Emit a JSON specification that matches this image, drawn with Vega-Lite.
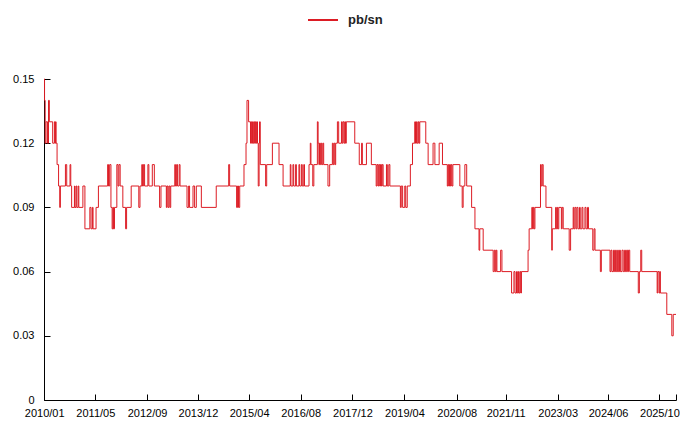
{
  "$schema": "https://vega.github.io/schema/vega-lite/v6.json",
  "width": 632,
  "height": 321,
  "autosize": {"type": "none"},
  "padding": {"left": 44, "top": 79, "right": 4, "bottom": 23},
  "background": "white",
  "config": {"view": {"stroke": null}, "font": "Liberation Sans"},
  "data": {"values": [
    {"d":"2010-01-13","v":0.15},{"d":"2010-01-18","v":0.14},{"d":"2010-01-24","v":0.12},{"d":"2010-02-01","v":0.13},{"d":"2010-02-15","v":0.12},
    {"d":"2010-02-24","v":0.14},{"d":"2010-03-04","v":0.13},{"d":"2010-04-04","v":0.12},{"d":"2010-04-20","v":0.13},{"d":"2010-04-26","v":0.12},
    {"d":"2010-05-01","v":0.13},{"d":"2010-05-06","v":0.12},{"d":"2010-05-15","v":0.11},{"d":"2010-05-29","v":0.10},{"d":"2010-06-09","v":0.09},
    {"d":"2010-06-15","v":0.10},{"d":"2010-08-01","v":0.11},{"d":"2010-08-13","v":0.10},{"d":"2010-09-13","v":0.11},{"d":"2010-09-20","v":0.10},
    {"d":"2010-09-28","v":0.09},{"d":"2010-10-24","v":0.10},{"d":"2010-10-28","v":0.09},{"d":"2010-11-08","v":0.10},{"d":"2010-11-15","v":0.09},
    {"d":"2010-11-28","v":0.10},{"d":"2010-12-04","v":0.09},{"d":"2011-01-11","v":0.10},{"d":"2011-01-30","v":0.08},{"d":"2011-03-17","v":0.09},
    {"d":"2011-03-28","v":0.08},{"d":"2011-04-10","v":0.09},{"d":"2011-04-16","v":0.08},{"d":"2011-05-14","v":0.09},{"d":"2011-06-05","v":0.10},
    {"d":"2011-08-30","v":0.11},{"d":"2011-09-07","v":0.10},{"d":"2011-09-18","v":0.11},{"d":"2011-09-30","v":0.09},{"d":"2011-10-11","v":0.08},
    {"d":"2011-10-19","v":0.09},{"d":"2011-10-23","v":0.08},{"d":"2011-11-02","v":0.09},{"d":"2011-11-24","v":0.11},{"d":"2011-12-05","v":0.10},
    {"d":"2011-12-14","v":0.11},{"d":"2011-12-25","v":0.10},{"d":"2012-01-19","v":0.09},{"d":"2012-02-14","v":0.08},{"d":"2012-02-23","v":0.09},
    {"d":"2012-04-06","v":0.10},{"d":"2012-06-16","v":0.09},{"d":"2012-06-27","v":0.10},{"d":"2012-07-14","v":0.11},{"d":"2012-07-20","v":0.10},
    {"d":"2012-07-29","v":0.11},{"d":"2012-08-09","v":0.10},{"d":"2012-09-09","v":0.11},{"d":"2012-09-18","v":0.10},{"d":"2012-10-20","v":0.11},
    {"d":"2012-11-08","v":0.10},{"d":"2012-12-27","v":0.09},{"d":"2013-01-09","v":0.10},{"d":"2013-02-28","v":0.09},{"d":"2013-03-06","v":0.10},
    {"d":"2013-03-15","v":0.09},{"d":"2013-03-24","v":0.10},{"d":"2013-04-02","v":0.09},{"d":"2013-04-10","v":0.10},{"d":"2013-05-18","v":0.11},
    {"d":"2013-05-24","v":0.10},{"d":"2013-06-04","v":0.11},{"d":"2013-06-13","v":0.10},{"d":"2013-06-28","v":0.11},{"d":"2013-07-06","v":0.10},
    {"d":"2013-09-09","v":0.09},{"d":"2013-09-24","v":0.10},{"d":"2013-10-03","v":0.09},{"d":"2013-11-04","v":0.10},{"d":"2013-11-19","v":0.09},
    {"d":"2013-12-05","v":0.10},{"d":"2014-01-21","v":0.09},{"d":"2014-06-09","v":0.10},{"d":"2014-10-03","v":0.11},{"d":"2014-10-12","v":0.10},
    {"d":"2014-12-16","v":0.09},{"d":"2014-12-25","v":0.10},{"d":"2015-01-03","v":0.09},{"d":"2015-01-14","v":0.10},{"d":"2015-02-23","v":0.11},
    {"d":"2015-03-14","v":0.12},{"d":"2015-03-23","v":0.14},{"d":"2015-04-07","v":0.13},{"d":"2015-04-25","v":0.12},{"d":"2015-05-02","v":0.13},
    {"d":"2015-05-07","v":0.12},{"d":"2015-05-14","v":0.13},{"d":"2015-05-20","v":0.12},{"d":"2015-05-26","v":0.13},{"d":"2015-06-02","v":0.12},
    {"d":"2015-06-09","v":0.13},{"d":"2015-06-14","v":0.12},{"d":"2015-06-21","v":0.13},{"d":"2015-06-29","v":0.12},{"d":"2015-07-06","v":0.10},
    {"d":"2015-07-14","v":0.12},{"d":"2015-07-18","v":0.13},{"d":"2015-07-25","v":0.11},{"d":"2015-09-13","v":0.10},{"d":"2015-09-23","v":0.11},
    {"d":"2015-11-15","v":0.12},{"d":"2016-01-16","v":0.11},{"d":"2016-02-23","v":0.10},{"d":"2016-04-30","v":0.11},{"d":"2016-05-06","v":0.10},
    {"d":"2016-05-25","v":0.11},{"d":"2016-06-01","v":0.10},{"d":"2016-06-19","v":0.11},{"d":"2016-06-26","v":0.10},{"d":"2016-07-20","v":0.11},
    {"d":"2016-07-27","v":0.10},{"d":"2016-08-12","v":0.11},{"d":"2016-08-20","v":0.10},{"d":"2016-09-03","v":0.11},{"d":"2016-09-10","v":0.10},
    {"d":"2016-10-22","v":0.11},{"d":"2016-11-03","v":0.12},{"d":"2016-11-09","v":0.11},{"d":"2016-11-26","v":0.10},{"d":"2016-12-06","v":0.11},
    {"d":"2017-01-08","v":0.13},{"d":"2017-01-15","v":0.12},{"d":"2017-01-22","v":0.11},{"d":"2017-01-28","v":0.12},{"d":"2017-02-05","v":0.11},
    {"d":"2017-02-13","v":0.12},{"d":"2017-02-19","v":0.11},{"d":"2017-02-28","v":0.12},{"d":"2017-03-08","v":0.11},{"d":"2017-04-17","v":0.10},
    {"d":"2017-05-03","v":0.11},{"d":"2017-05-28","v":0.12},{"d":"2017-06-05","v":0.11},{"d":"2017-06-13","v":0.12},{"d":"2017-06-21","v":0.11},
    {"d":"2017-06-28","v":0.12},{"d":"2017-07-14","v":0.13},{"d":"2017-07-26","v":0.12},{"d":"2017-08-21","v":0.13},{"d":"2017-08-28","v":0.12},
    {"d":"2017-09-05","v":0.13},{"d":"2017-09-14","v":0.12},{"d":"2017-09-21","v":0.13},{"d":"2017-09-28","v":0.12},{"d":"2017-10-05","v":0.13},
    {"d":"2017-12-23","v":0.12},{"d":"2018-02-03","v":0.11},{"d":"2018-02-25","v":0.12},{"d":"2018-03-04","v":0.11},{"d":"2018-04-11","v":0.12},
    {"d":"2018-05-27","v":0.11},{"d":"2018-07-11","v":0.10},{"d":"2018-07-19","v":0.11},{"d":"2018-07-28","v":0.10},{"d":"2018-08-04","v":0.11},
    {"d":"2018-08-13","v":0.10},{"d":"2018-08-20","v":0.11},{"d":"2018-08-29","v":0.10},{"d":"2018-09-05","v":0.11},{"d":"2018-09-14","v":0.10},
    {"d":"2018-10-15","v":0.11},{"d":"2018-10-23","v":0.10},{"d":"2018-11-06","v":0.11},{"d":"2018-11-16","v":0.10},{"d":"2019-02-22","v":0.09},
    {"d":"2019-03-02","v":0.10},{"d":"2019-03-15","v":0.09},{"d":"2019-04-04","v":0.10},{"d":"2019-04-13","v":0.09},{"d":"2019-04-27","v":0.10},
    {"d":"2019-05-26","v":0.11},{"d":"2019-06-15","v":0.12},{"d":"2019-07-06","v":0.13},{"d":"2019-07-13","v":0.12},{"d":"2019-07-22","v":0.13},
    {"d":"2019-07-29","v":0.12},{"d":"2019-08-08","v":0.13},{"d":"2019-08-15","v":0.12},{"d":"2019-08-22","v":0.13},{"d":"2019-10-17","v":0.12},
    {"d":"2019-11-08","v":0.11},{"d":"2019-12-24","v":0.12},{"d":"2020-01-10","v":0.11},{"d":"2020-02-19","v":0.12},{"d":"2020-03-21","v":0.11},
    {"d":"2020-05-05","v":0.10},{"d":"2020-05-13","v":0.11},{"d":"2020-05-19","v":0.10},{"d":"2020-05-26","v":0.11},{"d":"2020-06-03","v":0.10},
    {"d":"2020-06-10","v":0.11},{"d":"2020-06-17","v":0.10},{"d":"2020-06-26","v":0.11},{"d":"2020-08-30","v":0.10},{"d":"2020-09-21","v":0.09},
    {"d":"2020-09-30","v":0.10},{"d":"2020-10-16","v":0.11},{"d":"2020-11-02","v":0.10},{"d":"2020-12-18","v":0.09},{"d":"2021-01-18","v":0.08},
    {"d":"2021-02-25","v":0.07},{"d":"2021-03-04","v":0.08},{"d":"2021-04-05","v":0.07},{"d":"2021-07-07","v":0.06},{"d":"2021-07-18","v":0.07},
    {"d":"2021-07-27","v":0.06},{"d":"2021-08-04","v":0.07},{"d":"2021-08-11","v":0.06},{"d":"2021-09-15","v":0.07},{"d":"2021-09-27","v":0.06},
    {"d":"2021-12-26","v":0.05},{"d":"2022-01-17","v":0.06},{"d":"2022-01-27","v":0.05},{"d":"2022-02-10","v":0.06},{"d":"2022-02-18","v":0.05},
    {"d":"2022-02-28","v":0.06},{"d":"2022-03-06","v":0.05},{"d":"2022-03-15","v":0.06},{"d":"2022-03-22","v":0.05},{"d":"2022-03-28","v":0.06},
    {"d":"2022-05-29","v":0.07},{"d":"2022-06-08","v":0.08},{"d":"2022-07-03","v":0.09},{"d":"2022-07-10","v":0.08},{"d":"2022-07-17","v":0.09},
    {"d":"2022-07-24","v":0.08},{"d":"2022-08-01","v":0.09},{"d":"2022-09-22","v":0.11},{"d":"2022-09-29","v":0.10},{"d":"2022-10-08","v":0.11},
    {"d":"2022-10-17","v":0.10},{"d":"2022-11-12","v":0.09},{"d":"2023-01-05","v":0.07},{"d":"2023-01-10","v":0.08},{"d":"2023-02-10","v":0.09},
    {"d":"2023-02-17","v":0.08},{"d":"2023-02-26","v":0.09},{"d":"2023-03-03","v":0.08},{"d":"2023-03-12","v":0.09},{"d":"2023-04-05","v":0.08},
    {"d":"2023-04-12","v":0.09},{"d":"2023-04-22","v":0.08},{"d":"2023-06-17","v":0.07},{"d":"2023-06-30","v":0.08},{"d":"2023-07-24","v":0.09},
    {"d":"2023-07-30","v":0.08},{"d":"2023-08-09","v":0.09},{"d":"2023-08-19","v":0.08},{"d":"2023-08-28","v":0.09},{"d":"2023-09-07","v":0.08},
    {"d":"2023-09-21","v":0.09},{"d":"2023-09-28","v":0.08},{"d":"2023-10-14","v":0.09},{"d":"2023-10-23","v":0.08},{"d":"2023-11-11","v":0.09},
    {"d":"2023-11-21","v":0.08},{"d":"2023-12-05","v":0.09},{"d":"2023-12-14","v":0.08},{"d":"2024-01-23","v":0.07},{"d":"2024-02-04","v":0.08},
    {"d":"2024-02-13","v":0.07},{"d":"2024-04-03","v":0.06},{"d":"2024-04-12","v":0.07},{"d":"2024-07-02","v":0.06},{"d":"2024-07-11","v":0.07},
    {"d":"2024-07-20","v":0.06},{"d":"2024-08-04","v":0.07},{"d":"2024-08-12","v":0.06},{"d":"2024-08-23","v":0.07},{"d":"2024-08-30","v":0.06},
    {"d":"2024-09-11","v":0.07},{"d":"2024-09-18","v":0.06},{"d":"2024-09-29","v":0.07},{"d":"2024-10-07","v":0.06},{"d":"2024-10-22","v":0.07},
    {"d":"2024-11-02","v":0.06},{"d":"2024-11-15","v":0.07},{"d":"2024-11-23","v":0.06},{"d":"2024-12-04","v":0.07},{"d":"2024-12-13","v":0.06},
    {"d":"2024-12-22","v":0.07},{"d":"2025-01-02","v":0.06},{"d":"2025-03-23","v":0.05},{"d":"2025-04-02","v":0.06},{"d":"2025-04-15","v":0.07},
    {"d":"2025-04-24","v":0.06},{"d":"2025-09-15","v":0.05},{"d":"2025-09-21","v":0.06},{"d":"2025-10-03","v":0.05},{"d":"2025-10-10","v":0.06},
    {"d":"2025-10-15","v":0.05},{"d":"2025-12-14","v":0.04},{"d":"2026-01-30","v":0.03},{"d":"2026-02-12","v":0.04},{"d":"2026-03-10","v":0.04}
  ]},
  "mark": {"type": "line", "interpolate": "step-after", "strokeWidth": 1},
  "encoding": {
    "x": {
      "field": "d", "type": "temporal",
      "scale": {"type": "utc", "domain": [{"year": 2010, "month": 1, "date": 13, "utc": true}, {"year": 2026, "month": 3, "date": 10, "utc": true}]},
      "axis": {
        "title": null, "grid": false,
        "values": [
          {"year": 2010, "month": 1, "date": 15, "utc": true},
          {"year": 2011, "month": 5, "date": 7, "utc": true},
          {"year": 2012, "month": 9, "date": 1, "utc": true},
          {"year": 2013, "month": 12, "date": 20, "utc": true},
          {"year": 2015, "month": 4, "date": 12, "utc": true},
          {"year": 2016, "month": 8, "date": 5, "utc": true},
          {"year": 2017, "month": 12, "date": 1, "utc": true},
          {"year": 2019, "month": 4, "date": 1, "utc": true},
          {"year": 2020, "month": 8, "date": 1, "utc": true},
          {"year": 2021, "month": 11, "date": 1, "utc": true},
          {"year": 2023, "month": 3, "date": 1, "utc": true},
          {"year": 2024, "month": 6, "date": 14, "utc": true},
          {"year": 2025, "month": 10, "date": 6, "utc": true},
          {"year": 2026, "month": 3, "date": 10, "utc": true}
        ],
        "labelExpr": "datum.value > 1767225600000 ? '' : utcFormat(datum.value, '%Y/%m')",
        "tickSize": -6, "tickColor": "#000", "domainColor": "#000",
        "labelColor": "#000", "labelFontSize": 11, "labelPadding": 13,
        "labelFlush": false, "labelOverlap": false
      }
    },
    "y": {
      "field": "v", "type": "quantitative",
      "scale": {"domain": [0, 0.15], "nice": false},
      "axis": {
        "title": null, "grid": false,
        "values": [0, 0.03, 0.06, 0.09, 0.12, 0.15],
        "format": ".2~f",
        "tickSize": -6, "tickColor": "#000", "domainColor": "#000",
        "labelColor": "#000", "labelFontSize": 11, "labelPadding": 16
      }
    },
    "color": {
      "datum": "pb/sn",
      "scale": {"range": ["#dc1c24"]},
      "legend": {
        "orient": "none", "legendX": 263, "legendY": -75, "title": null,
        "symbolType": "stroke", "symbolSize": 900, "symbolStrokeWidth": 2,
        "labelFontSize": 13, "labelFontWeight": "bold", "labelColor": "#222",
        "labelOffset": 9, "padding": 0
      }
    }
  }
}
